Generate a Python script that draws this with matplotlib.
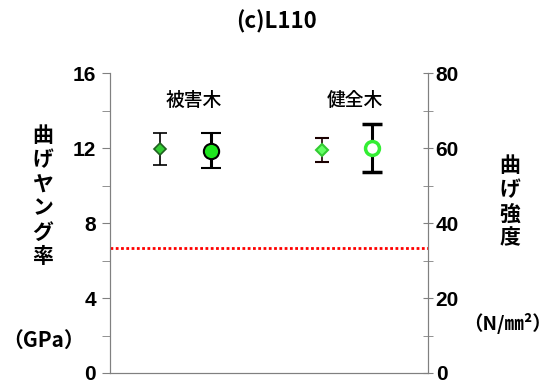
import matplotlib.pyplot as plt

plt.rcParams['font.family'] = ['Noto Sans CJK JP', 'DejaVu Sans']

# -----------------------------
# Data
# -----------------------------
groups = ['被害木', '健全木']
group_x = [0.95, 2.98]

moe_mean = [11.93, 11.90]      # 曲げヤング率 (GPa)
moe_err = [0.85, 0.63]
mor_mean = [59.3, 60.0]        # 曲げ強度 (N/mm2)
mor_err = [4.65, 6.3]
moe_line = 6.65                # red dotted reference

left_ticks = [0, 4, 8, 12, 16]
right_ticks = [0, 20, 40, 60, 80]

# -----------------------------
# Plot
# -----------------------------
fig = plt.figure(figsize=(5.57, 3.86), dpi=100)
ax = fig.add_axes([0.1975, 0.0337, 0.571, 0.777])
ax2 = ax.twinx()

ax.set_xlim(0, 4)
ax.set_ylim(0, 16)
ax2.set_ylim(0, 80)

off = 0.32

# 被害木
ax.errorbar(group_x[0] - off, moe_mean[0], yerr=moe_err[0], fmt='D', ms=6,
            mfc='#33cc33', mec='#1f5f1f', mew=1.2, ecolor='black',
            elinewidth=1.2, capsize=5, capthick=1.2, zorder=3)
ax2.errorbar(group_x[0] + off, mor_mean[0], yerr=mor_err[0], fmt='o', ms=11,
             mfc='#1ee61e', mec='black', mew=1.5, ecolor='black',
             elinewidth=2.2, capsize=7, capthick=2.2, zorder=3)

# 健全木
ax.errorbar(group_x[1] - off, moe_mean[1], yerr=moe_err[1], fmt='D', ms=6,
            mfc='#66ff66', mec='#33cc33', mew=1.5, ecolor='#1a0000',
            elinewidth=1.2, capsize=5, capthick=1.2, zorder=3)
ax2.errorbar(group_x[1] + off, mor_mean[1], yerr=mor_err[1], fmt='o', ms=10,
             mfc='white', mec='#33ee33', mew=2.5, ecolor='black',
             elinewidth=2.2, capsize=7, capthick=2.2, zorder=3)

ax.axhline(moe_line, color='red', lw=2, linestyle=(0, (1, 0.9)), zorder=2)

for gx, g in zip(group_x, groups):
    ax.text(gx + 0.1, 14.55, g, ha='center', va='center', fontsize=13.5,
            fontweight='medium')

# axes styling
for a in (ax, ax2):
    a.spines['top'].set_visible(False)
    for s in ('left', 'right', 'bottom'):
        a.spines[s].set_color('#808080')
    a.set_xticks([])

ax.set_yticks(left_ticks)
ax.set_yticks([2, 6, 10, 14], minor=True)
ax.tick_params(axis='y', which='both', direction='out', length=6,
               color='#808080', pad=4)
ax.tick_params(axis='y', labelsize=15)
ax2.set_yticks(right_ticks)
ax2.set_yticks([10, 30, 50, 70], minor=True)
ax2.tick_params(axis='y', which='both', direction='inout', length=7,
                color='#808080', pad=2)
ax2.tick_params(axis='y', labelsize=15)
for lab in ax.get_yticklabels() + ax2.get_yticklabels():
    lab.set_fontfamily(['Liberation Sans', 'DejaVu Sans'])
    lab.set_fontweight('bold')

fig.text(277 / 557, 1 - 22 / 386, '(c)L110', ha='center', va='center',
         fontsize=16, fontweight='bold')
fig.text(43 / 557, 1 - 196 / 386, '\n'.join('曲げヤング率'), ha='center',
         va='center', fontsize=15, fontweight='bold', linespacing=1.18)
fig.text(44 / 557, 1 - 340 / 386, '（GPa）', ha='center', va='center',
         fontsize=15, fontweight='bold')
fig.text(510 / 557, 1 - 202 / 386, '\n'.join('曲げ強度'), ha='center',
         va='center', fontsize=15, fontweight='bold', linespacing=1.18)
fig.text(508 / 557, 1 - 324 / 386, '（N/㎜²）', ha='center', va='center',
         fontsize=14, fontweight='bold')

fig.savefig('out.png', dpi=100)
